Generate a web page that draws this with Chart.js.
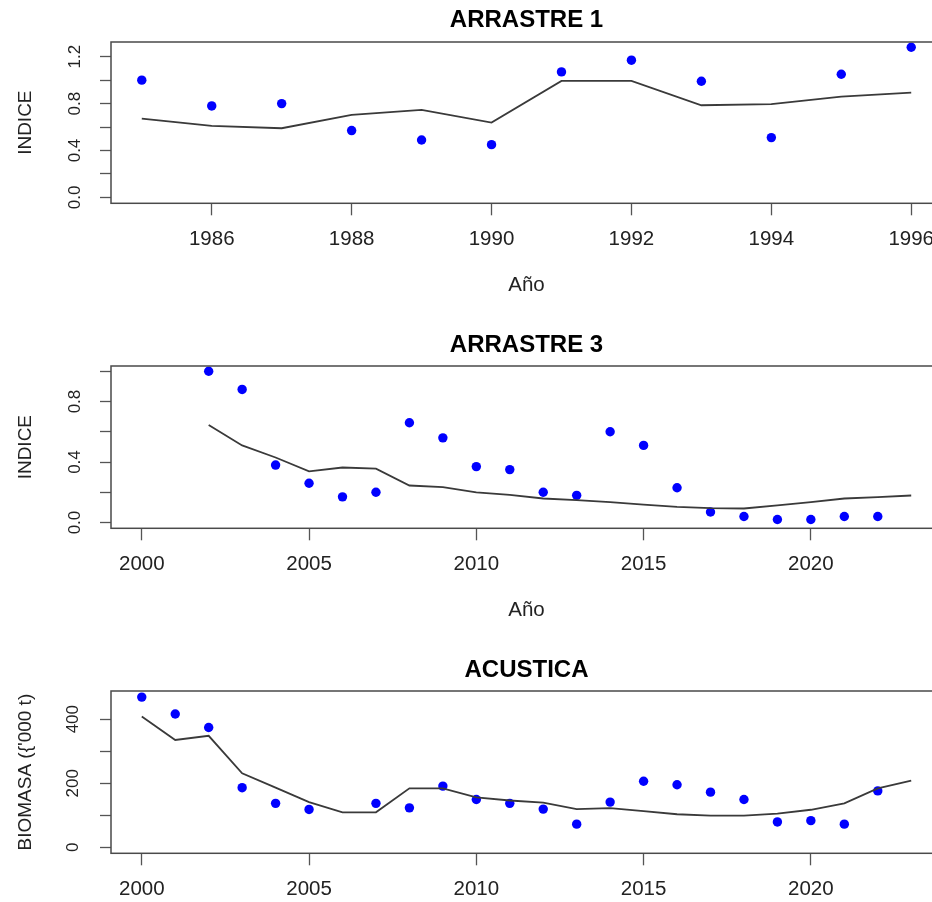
<!DOCTYPE html>
<html><head><meta charset="utf-8">
<script src="https://cdn.jsdelivr.net/npm/chart.js@4.4.1/dist/chart.umd.min.js"></script>
<style>
html,body{margin:0;padding:0;background:#fff;overflow:hidden;}
#wrap{position:relative;width:932px;height:902px;overflow:hidden;background:#fff;}
canvas{position:absolute;left:0;}
</style></head><body>
<div id="wrap">
<canvas id="c1" width="950" height="325" style="top:0px"></canvas>
<canvas id="c2" width="950" height="325" style="top:325px"></canvas>
<canvas id="c3" width="950" height="325" style="top:650px"></canvas>
</div>
<script>
// ---------- DATA ----------
const titles = ['ARRASTRE 1', 'ARRASTRE 3', 'ACUSTICA'];
const yTitles = ['INDICE', 'INDICE', "BIOMASA ({'000 t)"];
const xTitle = 'Año';

// Panel 1 : ARRASTRE 1
const years1 = [1985,1986,1987,1988,1989,1990,1991,1992,1993,1994,1995,1996];
const obs1   = [1.00,0.78,0.80,0.57,0.49,0.45,1.07,1.17,0.99,0.51,1.05,1.28];
const fit1   = [0.672,0.610,0.590,0.704,0.746,0.638,0.993,0.993,0.786,0.795,0.860,0.894];
const xTicks1 = [1986,1988,1990,1992,1994,1996];
const yTicks1 = [0,0.2,0.4,0.6,0.8,1.0,1.2];
const yLabels1 = ['0.0','0.4','0.8','1.2'];

// Panel 2 : ARRASTRE 3
const years2obs = [2002,2003,2004,2005,2006,2007,2008,2009,2010,2011,2012,2013,2014,2015,2016,2017,2018,2019,2020,2021,2022];
const obs2      = [1.00,0.88,0.38,0.26,0.17,0.20,0.66,0.56,0.37,0.35,0.20,0.18,0.60,0.51,0.23,0.07,0.04,0.02,0.02,0.04,0.04];
const years2fit = [2002,2003,2004,2005,2006,2007,2008,2009,2010,2011,2012,2013,2014,2015,2016,2017,2018,2019,2020,2021,2022,2023];
const fit2      = [0.645,0.510,0.430,0.338,0.364,0.356,0.245,0.234,0.199,0.183,0.159,0.148,0.135,0.119,0.104,0.095,0.093,0.113,0.135,0.159,0.168,0.179];
const xTicks2 = [2000,2005,2010,2015,2020];
const yTicks2 = [0,0.2,0.4,0.6,0.8,1.0];
const yLabels2 = ['0.0','0.4','0.8'];

// Panel 3 : ACUSTICA
const years3obs = [2000,2001,2002,2003,2004,2005,2006,2007,2008,2009,2010,2011,2012,2013,2014,2015,2016,2017,2018,2019,2020,2021,2022];
const obs3      = [469,416,374,186,137,118,null,137,123,191,149,137,119,72,141,206,195,172,149,79,83,72,176];
const years3fit = [2000,2001,2002,2003,2004,2005,2006,2007,2008,2009,2010,2011,2012,2013,2014,2015,2016,2017,2018,2019,2020,2021,2022,2023];
const fit3      = [408,335,348,231,186,141,109,109,184,184,156,146,139,119,122,113,103,99,99,105,117,137,184,208];
const xTicks3 = [2000,2005,2010,2015,2020];
const yTicks3 = [0,100,200,300,400];
const yLabels3 = ['0','200','400'];

// ---------- DRAWING ----------
Chart.defaults.font.family = "'Liberation Sans', Arial, sans-serif";

const boxPlugin = {
  id: 'rbox',
  afterDraw(chart) {
    const {ctx, chartArea: a} = chart;
    ctx.save();
    ctx.strokeStyle = '#4a4a4a';
    ctx.lineWidth = 1.5;
    ctx.strokeRect(a.left, a.top, a.right - a.left, a.bottom - a.top);
    ctx.restore();
  }
};

function makePanel(id, o) {
  const pts = o.xObs.map((x, i) => ({x: x, y: o.obs[i]}));
  const line = o.xFit.map((x, i) => ({x: x, y: o.fit[i]}));
  new Chart(document.getElementById(id), {
    type: 'line',
    data: {
      datasets: [
        {data: line, borderColor: '#3a3a3a', borderWidth: 1.8, pointRadius: 0, tension: 0, fill: false, order: 0},
        {data: pts, showLine: false, pointRadius: 4.7, pointBackgroundColor: '#0000ff', pointBorderWidth: 0, pointBorderColor: '#0000ff', clip: false, order: 1}
      ]
    },
    options: {
      responsive: false,
      animation: false,
      events: [],
      layout: {padding: {left: 0, right: 8, top: 0, bottom: 21.7}},
      plugins: {
        legend: {display: false},
        tooltip: {enabled: false},
        title: {display: true, text: o.title, fullSize: false, color: '#000',
                font: {size: 24, weight: 'bold'}, padding: {top: 5.6, bottom: o.titleBottom}}
      },
      scales: {
        x: {
          type: 'linear', position: 'bottom', min: o.xMin, max: o.xMax,
          afterBuildTicks: s => { s.ticks = o.xTicks.map(v => ({value: v})); },
          afterFit: s => { s.height = 100; },
          ticks: {autoSkip: false, minRotation: 0, maxRotation: 0, padding: 12,
                  font: {size: 20.5}, color: '#222', callback: v => String(v)},
          grid: {display: true, drawOnChartArea: false, drawTicks: true, tickLength: 12,
                 tickColor: '#555', tickWidth: 1.3},
          border: {display: false},
          title: {display: true, text: xTitle, color: '#222', font: {size: 20.5},
                  padding: {top: 0, bottom: 6}}
        },
        y: {
          type: 'linear', position: 'left', min: o.yMin, max: o.yMax,
          afterBuildTicks: s => { s.ticks = o.yTicks.map(v => ({value: v})); },
          afterFit: s => { s.width = 111; },
          ticks: {autoSkip: false, minRotation: 90, maxRotation: 90, crossAlign: 'center',
                  padding: o.yPad, font: {size: 17}, color: '#222',
                  callback: v => { const s = o.fmt(v); return o.yLabels.includes(s) ? s : ''; }},
          grid: {display: true, drawOnChartArea: false, drawTicks: true, tickLength: 11,
                 tickColor: '#555', tickWidth: 1.3},
          border: {display: false},
          title: {display: true, text: o.yTitle, color: '#222', font: {size: 19},
                  padding: {top: 14, bottom: 0}}
        }
      }
    },
    plugins: [boxPlugin]
  });
}

makePanel('c1', {title: titles[0], yTitle: yTitles[0], xObs: years1, obs: obs1, xFit: years1, fit: fit1,
  xMin: 1984.56, xMax: 1996.44, yMin: -0.05, yMax: 1.325, xTicks: xTicks1, yTicks: yTicks1,
  yLabels: yLabels1, fmt: v => v.toFixed(1), yPad: 13, titleBottom: 7.6});
makePanel('c2', {title: titles[1], yTitle: yTitles[1], xObs: years2obs, obs: obs2, xFit: years2fit, fit: fit2,
  xMin: 1999.08, xMax: 2023.92, yMin: -0.038, yMax: 1.035, xTicks: xTicks2, yTicks: yTicks2,
  yLabels: yLabels2, fmt: v => v.toFixed(1), yPad: 13, titleBottom: 6.6});
makePanel('c3', {title: titles[2], yTitle: yTitles[2], xObs: years3obs, obs: obs3, xFit: years3fit, fit: fit3,
  xMin: 1999.08, xMax: 2023.92, yMin: -19, yMax: 488, xTicks: xTicks3, yTicks: yTicks3,
  yLabels: yLabels3, fmt: v => String(Math.round(v)), yPad: 13, titleBottom: 6.6});
</script>
</body></html>
